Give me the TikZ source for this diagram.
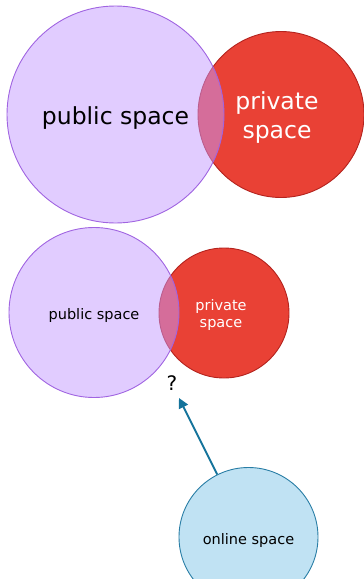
\documentclass[tikz,border=0pt]{standalone}
\usepackage{fontspec}
\setmainfont{DejaVu Sans}
\usetikzlibrary{arrows.meta}
\definecolor{pubfill}{RGB}{195,153,255}
\definecolor{pubdraw}{RGB}{160,100,225}
\definecolor{privfill}{RGB}{233,65,53}
\definecolor{privdraw}{RGB}{180,35,30}
\definecolor{onfill}{RGB}{192,226,243}
\definecolor{ondraw}{RGB}{40,125,165}
\definecolor{arrowcol}{RGB}{20,115,155}
\tikzset{
  pub/.style={circle, inner sep=0pt, fill=pubfill, fill opacity=0.5, draw=pubdraw, draw opacity=1, line width=0.9pt},
  priv/.style={circle, inner sep=0pt, fill=privfill, draw=privdraw, line width=0.9pt},
  online/.style={circle, inner sep=0pt, fill=onfill, draw=ondraw, line width=0.9pt},
  lbl/.style={inner sep=0pt, align=center},
  big/.style={font=\fontsize{23.5}{29}\selectfont},
  small/.style={font=\fontsize{14.5}{17.5}\selectfont},
  conn/.style={draw=arrowcol, line width=1.8pt, -{Triangle[length=10pt,width=10pt]}}
}
\begin{document}
\begin{tikzpicture}[x=1pt,y=-1pt]
\useasboundingbox (0,0) rectangle (364,579);
\clip (0,0) rectangle (364,579);
% top pair
\node[priv, minimum size=166pt] (priv1) at (281,114.5) {};
\node[pub, minimum size=217pt] (pub1) at (115.5,114.5) {};
\node[lbl, big, text=white] (priv1t) at ([xshift=-4pt,yshift=-3pt]priv1.center) {private\\space};
\node[lbl, big] (pub1t) at ([yshift=-4pt]pub1.center) {public space};
% middle pair
\node[priv, minimum size=130pt] (priv2) at (224,313) {};
\node[pub, minimum size=170pt] (pub2) at (94,312.5) {};
\node[lbl, small, text=white] (priv2t) at ([xshift=-3pt,yshift=-2pt]priv2.center) {private\\space};
\node[lbl, small] (pub2t) at ([yshift=-3pt]pub2.center) {public space};
% question
\node[font=\fontsize{20}{24}\selectfont, inner sep=0pt] (q) at (172,383) {?};
\coordinate (tip) at (179,398);
% online
\node[online, minimum size=139pt] (on) at (248.5,537) {};
\node[lbl, small] (ont) at ([yshift=-3pt]on.center) {online space};
\draw[conn] (on) -- (tip);
\end{tikzpicture}
\end{document}
